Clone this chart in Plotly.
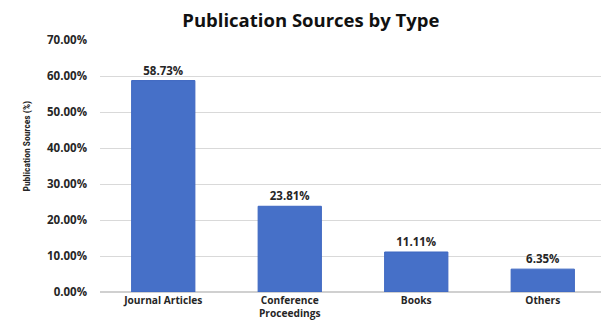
import plotly.graph_objects as go

categories = ["Journal Articles", "Conference<br>Proceedings", "Books", "Others"]
values = [58.73, 23.81, 11.11, 6.35]
y_ticks = [0, 10, 20, 30, 40, 50, 60, 70]

FONT = "Open Sans"
TXT = "#262626"

fig = go.Figure(
    go.Bar(
        x=categories,
        y=values,
        marker=dict(color="#4670C8", line=dict(color="#3D66C0", width=1)),
        text=[f"{v:.2f}%" for v in values],
        textposition="outside",
        textfont=dict(family=FONT, size=11.5, color=TXT, weight="bold"),
        cliponaxis=False,
    )
)

# Page has an 8px body margin, so the figure is sized 601x315 to fill the 609x323 window
fig.update_layout(
    width=601,
    height=315,
    margin=dict(l=92, r=3, t=32, b=31),
    paper_bgcolor="white",
    plot_bgcolor="white",
    bargap=0.5,
    showlegend=False,
    title=dict(
        text="<b>Publication Sources by Type</b>",
        x=0.504,
        xanchor="center",
        y=0.960,
        yanchor="middle",
        font=dict(family=FONT, size=18.5, color="#111111"),
    ),
    xaxis=dict(
        tickfont=dict(family=FONT, size=10.2, color=TXT, weight="bold"),
        showgrid=False,
        showline=False,
        ticks="",
        ticklabelstandoff=1,
        automargin=False,
    ),
    yaxis=dict(
        range=[0, 70],
        tickvals=y_ticks,
        ticktext=[f"{t:.2f}%" for t in y_ticks],
        tickfont=dict(family=FONT, size=11.5, color=TXT, weight="bold"),
        ticklabelstandoff=12,
        showgrid=True,
        gridcolor="#D9D9D9",
        gridwidth=1,
        zeroline=True,
        zerolinecolor="#D0D0D0",
        showline=False,
        automargin=False,
    ),
    annotations=[
        dict(
            text="<b>Publication Sources (%)</b>",
            xref="paper",
            yref="paper",
            x=-0.145,
            y=0.58,
            xanchor="center",
            yanchor="middle",
            textangle=-90,
            showarrow=False,
            font=dict(family="Liberation Sans Narrow, Roboto Condensed, Roboto", size=9.5, color=TXT),
        )
    ],
)

fig.write_html("out.html")
